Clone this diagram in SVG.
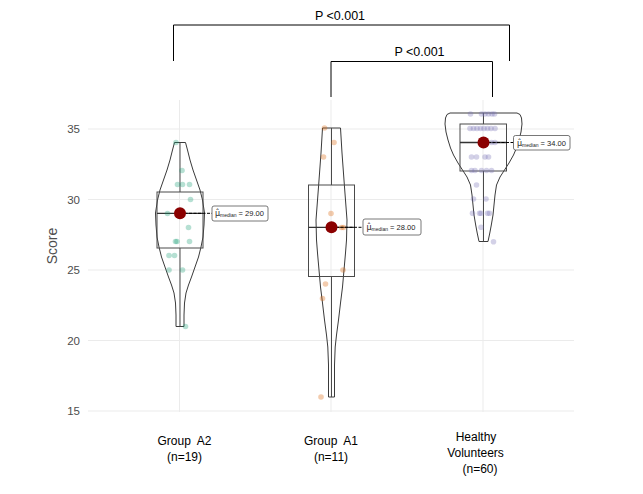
<svg xmlns="http://www.w3.org/2000/svg" width="643" height="494" viewBox="0 0 643 494">
<style>
.grid{stroke:#ebebeb;stroke-width:1;fill:none}
.violin{fill:none;stroke:#3a3a3a;stroke-width:1;stroke-linejoin:round}
.box{fill:none;stroke:#4a4a4a;stroke-width:1}
.whisk{stroke:#4a4a4a;stroke-width:1}
.med{stroke:#333;stroke-width:1.3}
.dash{stroke:#000;stroke-width:1;stroke-dasharray:3 1.5}
.mpt{fill:#8b0000}
.lab{fill:#fff;stroke:#555;stroke-width:0.8}
.labt{font-family:"Liberation Sans",Arial,sans-serif;font-size:7.5px;fill:#222}
.mu{font-family:"DejaVu Sans",sans-serif;font-size:8px}
.sub{font-size:5px}
.g1 circle{fill:#1b9e77;fill-opacity:0.32}
.g2 circle{fill:#d95f02;fill-opacity:0.32}
.g3 circle{fill:#7570b3;fill-opacity:0.32}
.ytick{font-family:"Liberation Sans",Arial,sans-serif;font-size:11.5px;fill:#4d4d4d;text-anchor:end}
.xtick{font-family:"Liberation Sans",Arial,sans-serif;font-size:12px;fill:#000;text-anchor:middle}
.br{stroke:#000;stroke-width:1;fill:none}
.pt{font-family:"Liberation Sans",Arial,sans-serif;font-size:12.5px;fill:#000;text-anchor:middle}
</style>
<rect width="643" height="494" fill="#fff"/>
<g id="grid">
<line class="grid" x1="88" y1="129" x2="574" y2="129"/>
<line class="grid" x1="88" y1="199.5" x2="574" y2="199.5"/>
<line class="grid" x1="88" y1="270" x2="574" y2="270"/>
<line class="grid" x1="88" y1="340.5" x2="574" y2="340.5"/>
<line class="grid" x1="88" y1="411" x2="574" y2="411"/>
<line class="grid" x1="179.5" y1="100" x2="179.5" y2="412"/>
<line class="grid" x1="331" y1="100" x2="331" y2="412"/>
<line class="grid" x1="483" y1="100" x2="483" y2="412"/>
</g>
<g id="y-axis">
<text class="ytick" x="80" y="133">35</text>
<text class="ytick" x="80" y="203.5">30</text>
<text class="ytick" x="80" y="274">25</text>
<text class="ytick" x="80" y="344.5">20</text>
<text class="ytick" x="80" y="415">15</text>
<text x="56.5" y="246" transform="rotate(-90 56.5 246)" font-family="Liberation Sans, Arial, sans-serif" font-size="14" fill="#4d4d4d" text-anchor="middle">Score</text>
</g>
<g id="group-a2">
<path class="violin" d="M174.5,142.5 L185.5,142.5 L187.5,150 L190,160 L193,170 L196.5,180 L200,190 L202.5,200 L204.5,213 L204,225 L203,237 L201,247 L198.5,257 L195,267 L191.5,277 L188.5,285 L186,293 L184.5,303 L184,315 L184,326.5 L176,326.5 L176,315 L175.5,303 L174,293 L171.5,285 L168.5,277 L165,267 L161.5,257 L159,247 L157,237 L156,225 L155.5,213 L157.5,200 L160,190 L163.5,180 L167,170 L170,160 L172.5,150 Z"/>
<line class="whisk" x1="180" y1="142.5" x2="180" y2="192"/>
<line class="whisk" x1="180" y1="248" x2="180" y2="326.5"/>
<rect class="box" x="157" y="192" width="46" height="56"/>
<line class="med" x1="157" y1="213.3" x2="203" y2="213.3"/>
<g class="g1">
<circle cx="176" cy="142.5" r="2.8"/><circle cx="182" cy="170.5" r="2.8"/>
<circle cx="177.5" cy="184.5" r="2.8"/><circle cx="182.5" cy="184.5" r="2.8"/><circle cx="189.5" cy="184.5" r="2.8"/>
<circle cx="190.5" cy="199.5" r="2.8"/><circle cx="167.5" cy="213.5" r="2.8"/><circle cx="188.5" cy="227.5" r="2.8"/>
<circle cx="175.5" cy="241.5" r="2.8"/><circle cx="177" cy="241.5" r="2.8"/><circle cx="189.5" cy="241.5" r="2.8"/>
<circle cx="169" cy="255.5" r="2.8"/><circle cx="174.5" cy="255.5" r="2.8"/>
<circle cx="169" cy="270" r="2.8"/><circle cx="182.5" cy="270" r="2.8"/><circle cx="185.5" cy="326.5" r="2.8"/>
</g>
<line class="dash" x1="180" y1="213.3" x2="212" y2="213.3"/>
<circle class="mpt" cx="180" cy="213.3" r="6"/>
<rect class="lab" x="212" y="206" width="56" height="15" rx="2"/>
<text class="labt" x="215" y="216"><tspan class="mu">μ̂</tspan><tspan class="sub" dy="1">median</tspan><tspan dy="-1"> = 29.00</tspan></text>
</g>
<g id="group-a1">
<path class="violin" d="M322.5,128 L340.5,128 L342,153 L344.5,187 L347,220 L346.5,240 L345.5,253 L344,270 L342.5,287 L340.5,303 L338.5,320 L336.5,335 L335.2,347 L334.5,365 L334.5,397 L328.5,397 L328.5,365 L327.8,347 L326.5,335 L324.5,320 L322.5,303 L320.5,287 L319,270 L317.5,253 L316.5,240 L316,220 L318.5,187 L321,153 Z"/>
<line class="whisk" x1="331.5" y1="128" x2="331.5" y2="185"/>
<line class="whisk" x1="331.5" y1="276.5" x2="331.5" y2="397"/>
<rect class="box" x="308.5" y="185" width="46" height="91.5"/>
<line class="med" x1="308.5" y1="227.3" x2="354.5" y2="227.3"/>
<g class="g2">
<circle cx="324.5" cy="128" r="2.8"/><circle cx="334" cy="142.5" r="2.8"/><circle cx="323.5" cy="157" r="2.8"/>
<circle cx="331" cy="213.5" r="2.8"/><circle cx="341.5" cy="227.5" r="2.8"/><circle cx="343.5" cy="227.5" r="2.8"/>
<circle cx="343" cy="270" r="2.8"/><circle cx="325.5" cy="284" r="2.8"/><circle cx="322.5" cy="298.5" r="2.8"/>
<circle cx="321" cy="397" r="2.8"/>
</g>
<line class="dash" x1="331.5" y1="227.3" x2="363" y2="227.3"/>
<circle class="mpt" cx="331.5" cy="227.3" r="6"/>
<rect class="lab" x="363" y="219" width="58" height="16" rx="2"/>
<text class="labt" x="366.5" y="229.5"><tspan class="mu">μ̂</tspan><tspan class="sub" dy="1">median</tspan><tspan dy="-1"> = 28.00</tspan></text>
</g>
<g id="healthy-volunteers">
<path class="violin" d="M450,113 L517,113 L520,114.5 L521.5,118 L522,124 L521,132 L519,140 L516.5,148 L513.5,155 L509,163 L504.5,170 L500,177 L496.5,185 L495,195 L494,205 L493,215 L491.3,225 L489.8,233 L488,241.5 L479,241.5 L477.2,233 L475.7,225 L474,215 L473,205 L472,195 L470.5,185 L467,177 L462.5,170 L458,163 L453.5,155 L450.5,148 L448,140 L446,132 L445,124 L445.5,118 L447,114.5 Z"/>
<line class="whisk" x1="483.5" y1="113" x2="483.5" y2="124"/>
<line class="whisk" x1="483.5" y1="171" x2="483.5" y2="241.5"/>
<rect class="box" x="460" y="124" width="46.5" height="47"/>
<line class="med" x1="460" y1="142.5" x2="506.5" y2="142.5"/>
<g class="g3">
<circle cx="470.5" cy="114" r="2.8"/><circle cx="481.5" cy="114" r="2.8"/><circle cx="485" cy="114" r="2.8"/><circle cx="488.5" cy="114" r="2.8"/><circle cx="492" cy="114" r="2.8"/><circle cx="494.5" cy="114" r="2.8"/>
<circle cx="470" cy="128.5" r="2.8"/><circle cx="473.5" cy="128.5" r="2.8"/><circle cx="477" cy="128.5" r="2.8"/><circle cx="480.5" cy="128.5" r="2.8"/><circle cx="484" cy="128.5" r="2.8"/><circle cx="487.5" cy="128.5" r="2.8"/><circle cx="491" cy="128.5" r="2.8"/><circle cx="495" cy="128.5" r="2.8"/>
<circle cx="491.5" cy="142.5" r="2.8"/><circle cx="495" cy="142.5" r="2.8"/>
<circle cx="471.5" cy="157" r="2.8"/><circle cx="476.5" cy="157" r="2.8"/><circle cx="485" cy="157" r="2.8"/><circle cx="488.5" cy="157" r="2.8"/>
<circle cx="471.5" cy="170.5" r="2.8"/><circle cx="475" cy="170.5" r="2.8"/><circle cx="481.5" cy="170.5" r="2.8"/><circle cx="486.5" cy="170.5" r="2.8"/><circle cx="491.5" cy="170.5" r="2.8"/>
<circle cx="476.5" cy="185" r="2.8"/>
<circle cx="473.5" cy="199" r="2.8"/><circle cx="486" cy="199" r="2.8"/>
<circle cx="472.5" cy="213.3" r="2.8"/><circle cx="479.5" cy="213.3" r="2.8"/><circle cx="481" cy="213.3" r="2.8"/><circle cx="487.5" cy="213.3" r="2.8"/><circle cx="489.5" cy="213.3" r="2.8"/>
<circle cx="481" cy="227.3" r="2.8"/>
<circle cx="493.5" cy="241.7" r="2.8"/>
</g>
<line class="dash" x1="483.5" y1="142.5" x2="513.5" y2="142.5"/>
<circle class="mpt" cx="483.5" cy="142.5" r="6"/>
<rect class="lab" x="513.5" y="135.5" width="56.5" height="14.5" rx="2"/>
<text class="labt" x="517" y="145.5"><tspan class="mu">μ̂</tspan><tspan class="sub" dy="1">median</tspan><tspan dy="-1"> = 34.00</tspan></text>
</g>
<g id="x-axis">
<text class="xtick" x="184.5" y="445" xml:space="preserve">Group  A2</text>
<text class="xtick" x="184.5" y="461">(n=19)</text>
<text class="xtick" x="331" y="445" xml:space="preserve">Group  A1</text>
<text class="xtick" x="331" y="461">(n=11)</text>
<text class="xtick" x="476" y="441">Healthy</text>
<text class="xtick" x="475.5" y="457">Volunteers</text>
<text class="xtick" x="480" y="473">(n=60)</text>
</g>
<g id="connectors">
<path class="br" d="M173.5,61 L173.5,25 L509.5,25 L509.5,61"/>
<path class="br" d="M331,97 L331,61.5 L492.5,61.5 L492.5,97"/>
</g>
<g id="p-labels">
<text class="pt" x="340" y="19.5">P &lt;0.001</text>
<text class="pt" x="419.5" y="56">P &lt;0.001</text>
</g>
</svg>
